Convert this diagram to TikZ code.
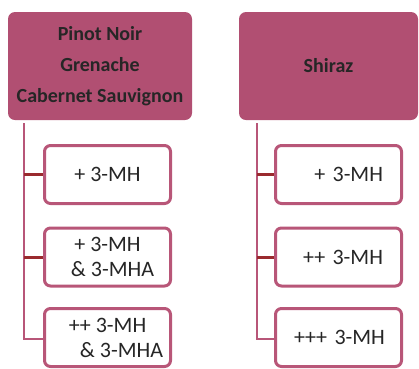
\documentclass[tikz,border=0pt]{standalone}
\usepackage{fontspec}
\setmainfont{Carlito}
\definecolor{hdrfill}{HTML}{B14F72}
\definecolor{pinkline}{HTML}{B85678}
\definecolor{darkred}{HTML}{9A2A2E}
\definecolor{txt}{HTML}{262626}
\begin{document}
\begin{tikzpicture}[x=1pt,y=-1pt,
  header/.style={draw=none,fill=hdrfill,rounded corners=7pt,text=txt,
    font=\bfseries\fontsize{20}{31}\selectfont,align=center,inner sep=0pt},
  childbox/.style={draw=pinkline,line width=3pt,fill=white,rounded corners=6pt,
    minimum width=126pt,minimum height=58pt,text=txt,
    font=\fontsize{22}{25}\selectfont,inner sep=0pt},
  rightbox/.style={childbox,text width=89pt,align=right,inner xsep=18.5pt},
  trunk/.style={draw=pinkline,line width=2.6pt},
  branch/.style={draw=darkred,line width=3pt}]
\useasboundingbox (0,0) rectangle (419,368);
% headers
\node[header,minimum width=184pt,minimum height=108pt] (lh) at (100,66) {Pinot Noir\\Grenache\\Cabernet Sauvignon};
\node[header,minimum width=179pt,minimum height=108pt] (rh) at (328.5,66) {Shiraz};
% left children
\node[childbox,align=center] (l1) at (107.5,174.5) {+ 3-MH};
\node[childbox,align=center] (l2) at (107.5,257) {+ 3-MH\\\hspace*{10pt}\& 3-MHA};
\node[childbox,align=center] (l3) at (107.5,337.5) {++ 3-MH\\\hspace*{28pt}\& 3-MHA};
% right children
\node[rightbox] (r1) at (338.5,174.5) {\mbox{+ 3-MH}};
\node[rightbox] (r2) at (338.5,257) {\mbox{++ 3-MH}};
\node[rightbox] (r3) at (338.5,337.5) {\mbox{+++ 3-MH}};
% trunks
\coordinate (lt) at (24,123);
\coordinate (lb) at (24,339);
\coordinate (rt) at (257,123);
\coordinate (rb) at (257,339);
\draw[trunk] (lt) -- (lb) -- (lb -| l3.west);
\draw[trunk] (rt) -- (rb) -- (rb -| r3.west);
% branches
\draw[branch] (lt |- l1.west) -- (l1.west);
\draw[branch] (lt |- l2.west) -- (l2.west);
\draw[branch] (rt |- r1.west) -- (r1.west);
\draw[branch] (rt |- r2.west) -- (r2.west);
\end{tikzpicture}
\end{document}
